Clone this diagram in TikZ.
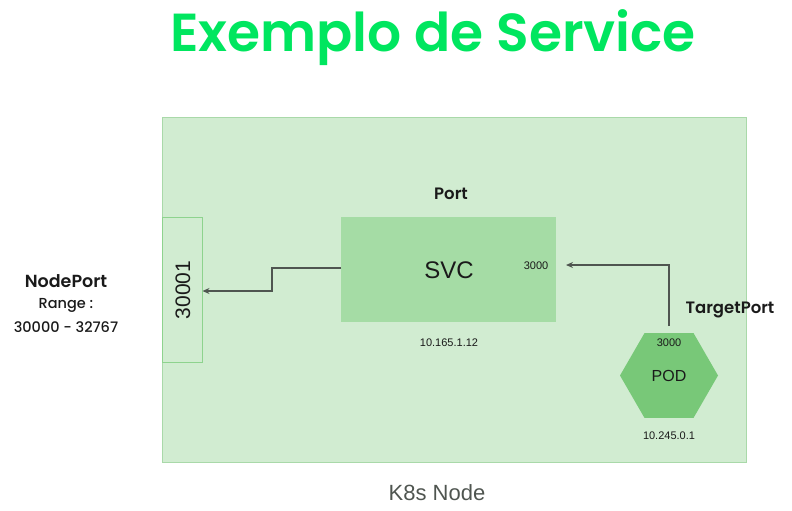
\documentclass[tikz,border=0pt]{standalone}
\usepackage{fontspec}
\setmainfont{Liberation Sans}
\newfontfamily\popm{Poppins Medium}
\newfontfamily\popsb{Poppins SemiBold}
\usetikzlibrary{arrows.meta,shapes.geometric}
\definecolor{titlegreen}{HTML}{00E65F}
\definecolor{bgfill}{HTML}{D1ECD1}
\definecolor{bgborder}{HTML}{A9D9A9}
\definecolor{svcfill}{HTML}{A5DCA5}
\definecolor{podfill}{HTML}{78C878}
\definecolor{portborder}{HTML}{8ED38E}
\definecolor{linegray}{HTML}{4F5550}
\definecolor{txt}{HTML}{1A1A1A}
\tikzset{
  lbl/.style={font=\popsb\fontsize{16.5}{19}\selectfont, text=txt, inner sep=0pt},
  small/.style={font=\fontsize{11}{13}\selectfont, text=txt, inner sep=0pt},
  conn/.style={draw=linegray, line width=1.2pt, -{Stealth[length=7pt,width=6pt]}},
}
\begin{document}
\begin{tikzpicture}[x=1pt,y=-1pt]
\useasboundingbox (0,0) rectangle (792,511);
\node[font=\popsb\fontsize{53.5}{60}\selectfont, text=titlegreen, inner sep=0pt] (title) at (433,38) {Exemplo de Service};
\node[draw=bgborder, fill=bgfill, line width=1pt, minimum width=584pt, minimum height=345pt, anchor=north west, inner sep=0pt] (k8s) at (162,117) {};
\node[draw=portborder, fill=bgfill, line width=1pt, minimum width=40pt, minimum height=145pt, anchor=north west, inner sep=0pt] (np) at (162,217) {};
\node[rotate=90, font=\fontsize{21}{23}\selectfont, text=txt, inner sep=0pt] (npt) at (183,290) {30001};
\node[fill=svcfill, minimum width=215pt, minimum height=105pt, anchor=north west, inner sep=0pt] (svc) at (341,217) {};
\node[font=\fontsize{24}{26}\selectfont, text=txt, inner sep=0pt] (svct) at (449,270) {SVC};
\node[small] (sp) at (536,266) {3000};
\node[small] (sip) at (449,343) {10.165.1.12};
\node[lbl] (port) at (451,194) {Port};
\node[regular polygon, regular polygon sides=6, shape border rotate=0, fill=podfill, minimum size=98pt, inner sep=0pt, draw=none] (pod) at (669,375.5) {};
\node[small] (pp) at (669,343) {3000};
\node[font=\fontsize{16}{18}\selectfont, text=txt, inner sep=0pt] (podt) at (669,376) {POD};
\node[small] (pip) at (669,436) {10.245.0.1};
\node[lbl] (tp) at (730,310) {TargetPort};
\node[font=\popsb\fontsize{17.5}{20}\selectfont, text=txt, inner sep=0pt] (npl) at (66,281) {NodePort};
\node[font=\popm\fontsize{14.5}{16}\selectfont, text=txt, inner sep=0pt] (rng) at (66,305) {Range :};
\node[font=\popm\fontsize{14.5}{16}\selectfont, text=txt, inner sep=0pt] (rngv) at (66,327) {30000 - 32767};
\node[font=\fontsize{22}{24}\selectfont, text=linegray, inner sep=0pt] (k8sl) at (437,493) {K8s Node};
\coordinate (a1) at (341,268);
\coordinate (a2) at (202.5,291);
\draw[conn] (a1) -- (272,268) -- (272,291) -- (a2);
\coordinate (b1) at (669,326);
\coordinate (b2) at (566,265);
\draw[conn] (b1) -- (669,265) -- (b2);
\end{tikzpicture}
\end{document}
